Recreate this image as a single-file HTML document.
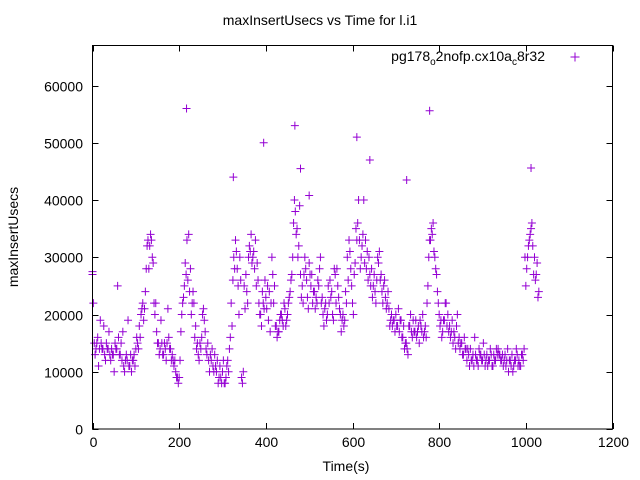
<!DOCTYPE html>
<html><head><meta charset="utf-8"><style>
body{margin:0;background:#fff}
svg{display:block;font-family:"Liberation Sans",sans-serif}
</style></head><body>
<svg id="chart" width="640" height="480">
<rect x="0" y="0" width="640" height="480" fill="#fff"/>
<text x="320" y="25" text-anchor="middle" font-size="14">maxInsertUsecs vs Time for l.i1</text>
<text x="346" y="471" text-anchor="middle" font-size="14">Time(s)</text>
<text transform="translate(18,237) rotate(-90)" text-anchor="middle" font-size="14">maxInsertUsecs</text>
<g id="axes"></g>
<g id="points"></g>
<g>
<text x="545" y="61" text-anchor="end" font-size="14">pg178<tspan font-size="10" dy="4">o</tspan><tspan dy="-4">2nofp.cx10a</tspan><tspan font-size="10" dy="4">c</tspan><tspan dy="-4">8r32</tspan></text>
<path d="M570.5 57h9M575 52.5v9" stroke="#9400d3" stroke-width="1"/>
</g>
<rect x="92.5" y="45.5" width="520" height="383.5" fill="none" stroke="#000"/>
</svg>
<script>
const xTicks=[0,200,400,600,800,1000,1200];
const yTicks=[0,10000,20000,30000,40000,50000,60000];
const times=[0,4,8,12,16,20,24,28,32,36,40,44,48,52,56,60,64,68,72,76,80,84,88,92,96,100,104,108,112,116,120,124,128,132,136,140,144,148,152,156,160,164,168,172,176,180,184,188,192,196,200,204,208,212,216,220,224,228,232,236,240,244,248,252,256,260,264,268,272,276,280,284,288,292,296,300,304,308,312,316,320,324,328,332,336,340,344,348,352,356,360,364,368,372,376,380,384,388,392,396,400,404,408,412,416,420,424,428,432,436,440,444,448,452,456,460,464,468,472,476,480,484,488,492,496,500,504,508,512,516,520,524,528,532,536,540,544,548,552,556,560,564,568,572,576,580,584,588,592,596,600,604,608,612,616,620,624,628,632,636,640,644,648,652,656,660,664,668,672,676,680,684,688,692,696,700,704,708,712,716,720,724,728,732,736,740,744,748,752,756,760,764,768,772,776,780,784,788,792,796,800,804,808,812,816,820,824,828,832,836,840,844,848,852,856,860,864,868,872,876,880,884,888,892,896,900,904,908,912,916,920,924,928,932,936,940,944,948,952,956,960,964,968,972,976,980,984,988,992,996,1000,1004,1008,1012,1016,1020,1024,1028];
const valuesA=[27,15,14,16,14,15,14,13,15,14,13,14,13,15,14,16,13,12,11,12,12,11,13,12,13,14,15,18,20,22,21,28,33,32,33,29,20,17,15,14,15,13,14,15,16,14,13,11,10,9,9,17,22,25,27,26,24,20,24,16,14,13,15,16,21,17,13,12,13,14,10,11,12,9,9,10,8,9,12,14,22,26,28,31,25,30,9,10,21,24,30,31,29,31,33,29,22,20,24,21,23,25,24,22,27,25,18,17,19,20,18,21,19,22,24,27,36,38,35,32,27,25,27,28,23,29,25,22,24,23,26,28,22,20,21,19,25,26,24,19,27,28,23,20,19,18,24,30,33,28,22,27,35,36,33,30,34,29,28,26,27,28,25,24,26,29,26,24,25,23,22,21,19,18,19,20,18,17,19,16,14,15,13,18,17,19,17,16,18,19,17,16,18,22,30,33,34,31,28,24,20,19,17,19,22,20,18,17,15,16,18,15,14,15,13,14,12,13,14,12,11,13,12,14,13,12,13,12,11,12,13,11,12,14,14,13,12,11,13,12,10,12,13,11,12,13,12,11,13,14,25,30,33,35,32,30,27,23];
const valuesB=[22,13,15,11,19,14,18,12,14,17,12,13,10,14,25,13,15,17,10,13,19,11,10,12,11,16,14,16,21,19,24,32,28,34,30,22,22,15,13,19,13,15,12,21,14,12,12,12,9,8,12,20,23,29,33,34,28,22,22,18,15,12,14,20,19,14,15,10,12,11,13,10,8,11,8,12,8,11,10,16,18,30,33,28,20,26,8,25,27,22,32,34,30,28,25,26,20,18,22,26,21,19,17,30,22,18,16,17,20,19,22,18,20,23,26,30,40,34,30,39,23,22,30,26,21,27,27,24,21,22,25,30,23,18,22,20,22,23,20,28,22,25,21,17,20,19,22,26,31,25,20,29,33,40,28,32,40,33,31,30,25,23,27,22,30,31,27,22,26,21,24,18,20,19,17,18,21,19,16,18,15,14,18,20,16,17,19,17,15,18,20,17,16,25,33,35,36,30,27,22,18,16,19,22,18,17,16,19,17,14,20,16,15,13,16,14,14,11,12,13,16,12,11,13,12,15,11,13,12,14,11,13,12,13,13,12,13,12,11,14,12,11,10,12,14,11,11,13,12,30,28,32,34,36,27,26,29,24];
const outlierTimes=[217,778,467,610,395,325,725,1012,500,480,640,0];
const outlierValues=[56,55.6,53,51,50,44,43.5,45.6,40.8,45.5,47,27.5];
const X0=92.5,X1=612.5,Y0=429,Y1=45.5;
const YMAX=67000;
function sx(t){return X0+(t-0)/1200*(X1-X0);}
function sy(v){return Y0-(v-0)/YMAX*(Y0-Y1);}
const NS='http://www.w3.org/2000/svg';
const axes=document.getElementById('axes');
xTicks.forEach(t=>{const x=Math.round(sx(t))+0.5;
 const p=document.createElementNS(NS,'path');
 p.setAttribute('d',`M${x} ${Y0}v-6M${x} ${Y1}v6`);p.setAttribute('stroke','#000');
 
 
 axes.appendChild(p);
 const tx=document.createElementNS(NS,'text');tx.setAttribute('x',x);tx.setAttribute('y',447);
 tx.setAttribute('text-anchor','middle');tx.setAttribute('font-size','14');tx.textContent=t;
 
 
 axes.appendChild(tx);});
yTicks.forEach(v=>{const y=Math.round(sy(v))+0.5;
 const p=document.createElementNS(NS,'path');
 p.setAttribute('d',`M${X0} ${y}h6M${X1} ${y}h-6`);p.setAttribute('stroke','#000');
 
 
 axes.appendChild(p);
 const tx=document.createElementNS(NS,'text');tx.setAttribute('x',83);tx.setAttribute('y',y+5);
 tx.setAttribute('text-anchor','end');tx.setAttribute('font-size','14');tx.textContent=v;
 
 
 axes.appendChild(tx);});
const pts=document.getElementById('points');
function plus(t,v){const x=sx(t),y=sy(v*1000);
 const p=document.createElementNS(NS,'path');
 p.setAttribute('d',`M${x-4} ${y}h8M${x} ${y-4}v8`);
 p.setAttribute('stroke','#9400d3');p.setAttribute('stroke-width','1');
 
 
 pts.appendChild(p);}
times.forEach((t,i)=>{plus(t,valuesA[i]);plus(t+2,valuesB[i]);});
outlierTimes.forEach((t,i)=>plus(t,outlierValues[i]));
</script>
</body></html>
